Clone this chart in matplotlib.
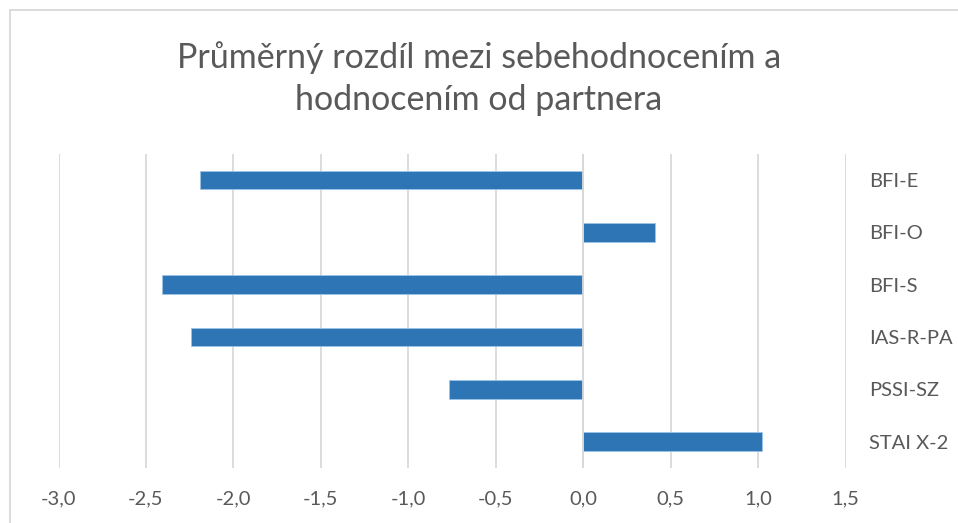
import matplotlib.pyplot as plt
from matplotlib.lines import Line2D
from matplotlib.ticker import FuncFormatter

categories = ['BFI-E', 'BFI-O', 'BFI-S', 'IAS-R-PA', 'PSSI-SZ', 'STAI X-2']
values = [-2.19, 0.41, -2.41, -2.24, -0.77, 1.02]
xticks = [-3.0, -2.5, -2.0, -1.5, -1.0, -0.5, 0.0, 0.5, 1.0, 1.5]

text_col = '#595959'
grid_col = '#d9d9d9'
bar_col = '#2e75b6'
W, H = 958, 523

fig = plt.figure(figsize=(W / 100, H / 100), dpi=100)
ax = fig.add_axes([58.5 / W, 1 - 467.7 / H, (845.7 - 58.5) / W, (467.7 - 154) / H])

pos = list(range(len(categories)))
ax.barh(pos, values, height=0.355, color=bar_col, edgecolor='#9dc3e6', linewidth=0.6, zorder=3)
ax.set_ylim(len(categories) - 0.5, -0.5)
ax.set_xlim(-3.0, 1.5)
ax.set_xticks(xticks)
ax.xaxis.set_major_formatter(FuncFormatter(lambda v, p: f'{v:.1f}'.replace('.', ',')))
ax.set_yticks(pos)
ax.set_yticklabels(categories)
ax.yaxis.tick_right()

ax.grid(axis='x', color=grid_col, linewidth=1.3, zorder=0)
for s in ax.spines.values():
    s.set_visible(False)
ax.axvline(0, color=grid_col, linewidth=1.3, zorder=4)

ax.tick_params(axis='x', length=0, pad=16, labelsize=14.5, labelcolor=text_col)
ax.tick_params(axis='y', length=0, pad=17, labelsize=14.5, labelcolor=text_col)
for lbl in ax.get_xticklabels() + ax.get_yticklabels():
    lbl.set_family('Lato')

fig.text(0.5, 1 - 79 / H, 'Průměrný rozdíl mezi sebehodnocením a\nhodnocením od partnera',
         ha='center', va='center', fontsize=24.5, color=text_col, family='Lato', linespacing=1.38)

# chart border (top and left only visible)
fig.add_artist(Line2D([10 / W, 1], [1 - 10 / H, 1 - 10 / H], transform=fig.transFigure, color=grid_col, linewidth=1.3))
fig.add_artist(Line2D([10 / W, 10 / W], [0, 1 - 10 / H], transform=fig.transFigure, color=grid_col, linewidth=1.3))

fig.savefig('out.png', dpi=100)
